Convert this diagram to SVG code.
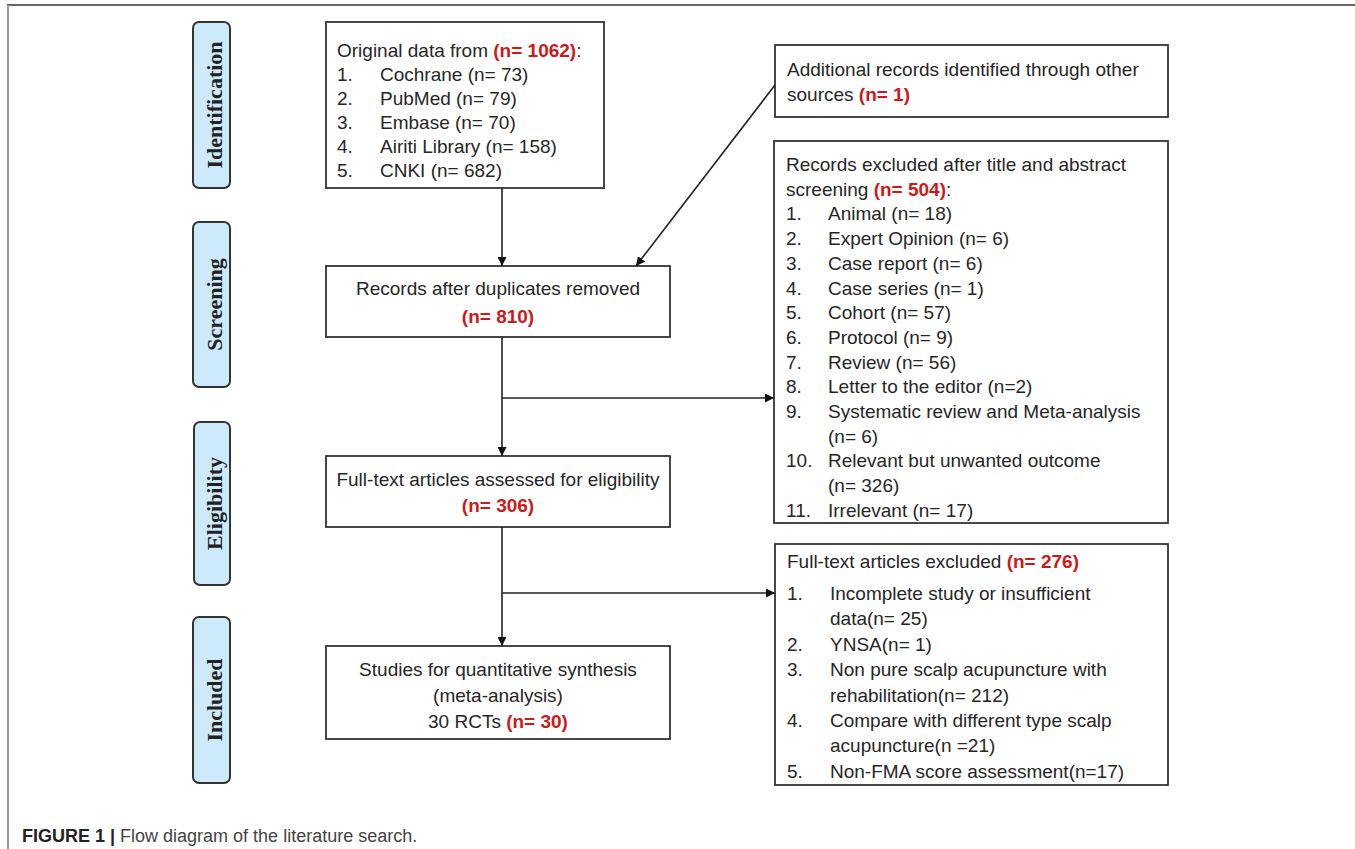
<svg xmlns="http://www.w3.org/2000/svg" width="1355" height="849" viewBox="0 0 1355 849">
<defs>
<style>
.bx{fill:#fff;stroke:#333;stroke-width:1.8}
.ph{fill:#cdeafa;stroke:#333;stroke-width:2}
.pt{font-family:"Liberation Serif","Times New Roman",serif;font-weight:bold;font-size:22px;fill:#222;text-anchor:middle}
.t{font-family:"Liberation Sans",Arial,sans-serif;font-size:19px;fill:#262626}
.c{text-anchor:middle}
.r{fill:#d01818;font-weight:bold}
.ln{stroke:#222;stroke-width:1.6;fill:none}
.cap{font-family:"Liberation Sans",Arial,sans-serif;font-size:18px;fill:#444}
</style>
<marker id="ah" viewBox="0 0 10 10" refX="10" refY="5" markerWidth="9" markerHeight="9" markerUnits="userSpaceOnUse" orient="auto">
<path d="M0,0 L10,5 L0,10 Z" fill="#111"/>
</marker>
</defs>
<rect width="1355" height="849" fill="#fff"/>
<line x1="7" y1="5" x2="1355" y2="5" stroke="#333" stroke-width="1.6"/>
<line x1="8" y1="5" x2="8" y2="849" stroke="#999" stroke-width="2"/>

<g id="phase-identification">
<rect class="ph" x="193" y="22" width="37" height="166" rx="6"/>
<text class="pt" transform="translate(222,105) rotate(-90)">Identification</text>
</g>
<g id="phase-screening">
<rect class="ph" x="193" y="222" width="37" height="165" rx="6"/>
<text class="pt" transform="translate(222,304.5) rotate(-90)">Screening</text>
</g>
<g id="phase-eligibility">
<rect class="ph" x="194" y="422" width="36" height="163" rx="6"/>
<text class="pt" transform="translate(222,503.5) rotate(-90)">Eligibility</text>
</g>
<g id="phase-included">
<rect class="ph" x="193" y="617" width="37" height="166" rx="6"/>
<text class="pt" transform="translate(222,700) rotate(-90)">Included</text>
</g>

<g id="original">
<rect class="bx" x="326" y="22" width="278" height="166"/>
<text class="t" x="337" y="57">Original data from <tspan class="r">(n= 1062)</tspan>:</text>
<text class="t" y="81"><tspan x="337">1.</tspan><tspan x="380">Cochrane (n= 73)</tspan></text>
<text class="t" y="105"><tspan x="337">2.</tspan><tspan x="380">PubMed (n= 79)</tspan></text>
<text class="t" y="129"><tspan x="337">3.</tspan><tspan x="380">Embase (n= 70)</tspan></text>
<text class="t" y="153"><tspan x="337">4.</tspan><tspan x="380">Airiti Library (n= 158)</tspan></text>
<text class="t" y="177"><tspan x="337">5.</tspan><tspan x="380">CNKI (n= 682)</tspan></text>
</g>

<g id="additional">
<rect class="bx" x="775" y="45" width="393" height="72"/>
<text class="t" x="787" y="76">Additional records identified through other</text>
<text class="t" x="787" y="101">sources <tspan class="r">(n= 1)</tspan></text>
</g>

<g id="duplicates">
<rect class="bx" x="326" y="266" width="344" height="71"/>
<text class="t c" x="498" y="295">Records after duplicates removed</text>
<text class="t c r" x="498" y="323">(n= 810)</text>
</g>

<g id="excluded-screening">
<rect class="bx" x="774" y="141" width="394" height="382"/>
<text class="t" x="786" y="171">Records excluded after title and abstract</text>
<text class="t" x="786" y="195.7">screening <tspan class="r">(n= 504)</tspan>:</text>
<text class="t" y="220.4"><tspan x="786">1.</tspan><tspan x="828">Animal (n= 18)</tspan></text>
<text class="t" y="245.1"><tspan x="786">2.</tspan><tspan x="828">Expert Opinion (n= 6)</tspan></text>
<text class="t" y="269.8"><tspan x="786">3.</tspan><tspan x="828">Case report (n= 6)</tspan></text>
<text class="t" y="294.5"><tspan x="786">4.</tspan><tspan x="828">Case series (n= 1)</tspan></text>
<text class="t" y="319.2"><tspan x="786">5.</tspan><tspan x="828">Cohort (n= 57)</tspan></text>
<text class="t" y="343.9"><tspan x="786">6.</tspan><tspan x="828">Protocol (n= 9)</tspan></text>
<text class="t" y="368.6"><tspan x="786">7.</tspan><tspan x="828">Review (n= 56)</tspan></text>
<text class="t" y="393.3"><tspan x="786">8.</tspan><tspan x="828">Letter to the editor (n=2)</tspan></text>
<text class="t" y="418"><tspan x="786">9.</tspan><tspan x="828">Systematic review and Meta-analysis</tspan></text>
<text class="t" x="828" y="442.7">(n= 6)</text>
<text class="t" y="467.4"><tspan x="786">10.</tspan><tspan x="828">Relevant but unwanted outcome</tspan></text>
<text class="t" x="828" y="492.1">(n= 326)</text>
<text class="t" y="516.8"><tspan x="786">11.</tspan><tspan x="828">Irrelevant (n= 17)</tspan></text>
</g>

<g id="fulltext">
<rect class="bx" x="326" y="456" width="344" height="71"/>
<text class="t c" x="498" y="486">Full-text articles assessed for eligibility</text>
<text class="t c r" x="498" y="512">(n= 306)</text>
</g>

<g id="excluded-fulltext">
<rect class="bx" x="775" y="544" width="393" height="241"/>
<text class="t" x="787" y="568">Full-text articles excluded <tspan class="r">(n= 276)</tspan></text>
<text class="t" y="600"><tspan x="787">1.</tspan><tspan x="830">Incomplete study or insufficient</tspan></text>
<text class="t" x="830" y="625.4">data(n= 25)</text>
<text class="t" y="650.8"><tspan x="787">2.</tspan><tspan x="830">YNSA(n= 1)</tspan></text>
<text class="t" y="676.2"><tspan x="787">3.</tspan><tspan x="830">Non pure scalp acupuncture with</tspan></text>
<text class="t" x="830" y="701.6">rehabilitation(n= 212)</text>
<text class="t" y="727"><tspan x="787">4.</tspan><tspan x="830">Compare with different type scalp</tspan></text>
<text class="t" x="830" y="752.4">acupuncture(n =21)</text>
<text class="t" y="777.8"><tspan x="787">5.</tspan><tspan x="830">Non-FMA score assessment(n=17)</tspan></text>
</g>

<g id="included">
<rect class="bx" x="326" y="646" width="344" height="93"/>
<text class="t c" x="498" y="676">Studies for quantitative synthesis</text>
<text class="t c" x="498" y="702">(meta-analysis)</text>
<text class="t c" x="498" y="728">30 RCTs <tspan class="r">(n= 30)</tspan></text>
</g>

<g id="connectors">
<line class="ln" x1="502" y1="188" x2="502" y2="266" marker-end="url(#ah)"/>
<line class="ln" x1="775" y1="85" x2="636" y2="266" marker-end="url(#ah)"/>
<line class="ln" x1="502" y1="337" x2="502" y2="456" marker-end="url(#ah)"/>
<line class="ln" x1="502" y1="398" x2="774" y2="398" marker-end="url(#ah)"/>
<line class="ln" x1="502" y1="527" x2="502" y2="646" marker-end="url(#ah)"/>
<line class="ln" x1="502" y1="593" x2="775" y2="593" marker-end="url(#ah)"/>
</g>

<text class="cap" x="22" y="842"><tspan font-weight="bold" fill="#222">FIGURE 1 |</tspan> Flow diagram of the literature search.</text>
</svg>
